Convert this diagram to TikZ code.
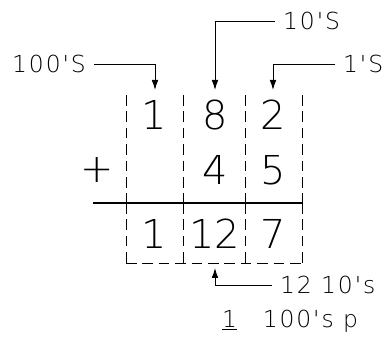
\documentclass[tikz,border=0pt]{standalone}
\usepackage{fontspec}
\setmainfont{DejaVuSans-ExtraLight.ttf}
\newfontfamily\lettering[LetterSpace=8]{DejaVuSans-ExtraLight.ttf}
\usetikzlibrary{arrows.meta}

\tikzset{
  digit/.style={inner sep=0pt,font=\fontsize{34}{36}\selectfont},
  lbl/.style={inner sep=0pt,font=\lettering\fontsize{20}{22}\selectfont},
  colline/.style={line width=0.8pt,dash pattern=on 9pt off 5pt},
  ptr/.style={line width=0.8pt,shorten <=7pt,-{Latex[length=3mm,width=2mm]}},
}

\begin{document}
\begin{tikzpicture}[x=0.03cm,y=-0.03cm]
  \useasboundingbox (0,0) rectangle (382,344);
  % --- columnas ---
  \foreach \cx in {126,183,245,302}{
    \draw[colline] (\cx,95)--(\cx,203);
    \draw[colline] (\cx,203)--(\cx,263);
  }
  \draw[colline] (126,263)--(302,263);
  \draw[line width=1.1pt] (93,203)--(302,203);
  % --- cifras ---
  \node[digit] (a1) at (154,115) {1};
  \node[digit] (a2) at (215,115) {8};
  \node[digit] (a3) at (273,115) {2};
  \node[digit] (plus) at (97,170) {+};
  \node[digit] (b2) at (215,170) {4};
  \node[digit] (b3) at (273,170) {5};
  \node[digit] (s1) at (154,234) {1};
  \node[digit] (s2) at (215,234) {12};
  \node[digit] (s3) at (273,234) {7};
  % --- rotulos ---
  \node[lbl,anchor=east] (l100) at (86,64) {100'S};
  \node[lbl,anchor=west] (l10) at (283,21) {10'S};
  \node[lbl,anchor=west] (l1) at (343,64) {1'S};
  \node[lbl,anchor=west] (l12) at (280,285) {12 10's};
  \node[lbl,anchor=west] (l1h) at (222,321) {\underline{1}\hspace{22pt}100's p};
  \coordinate (h100) at (155,90);
  \coordinate (h10) at (215,90);
  \coordinate (h1) at (273,90);
  \coordinate (h12) at (215,268);
  % --- flechas ---
  \draw[ptr] (l100.east) -| (h100);
  \draw[ptr] (l10.west) -| (h10);
  \draw[ptr] (l1.west) -| (h1);
  \draw[ptr] (l12.west) -| (h12);
\end{tikzpicture}
\end{document}
